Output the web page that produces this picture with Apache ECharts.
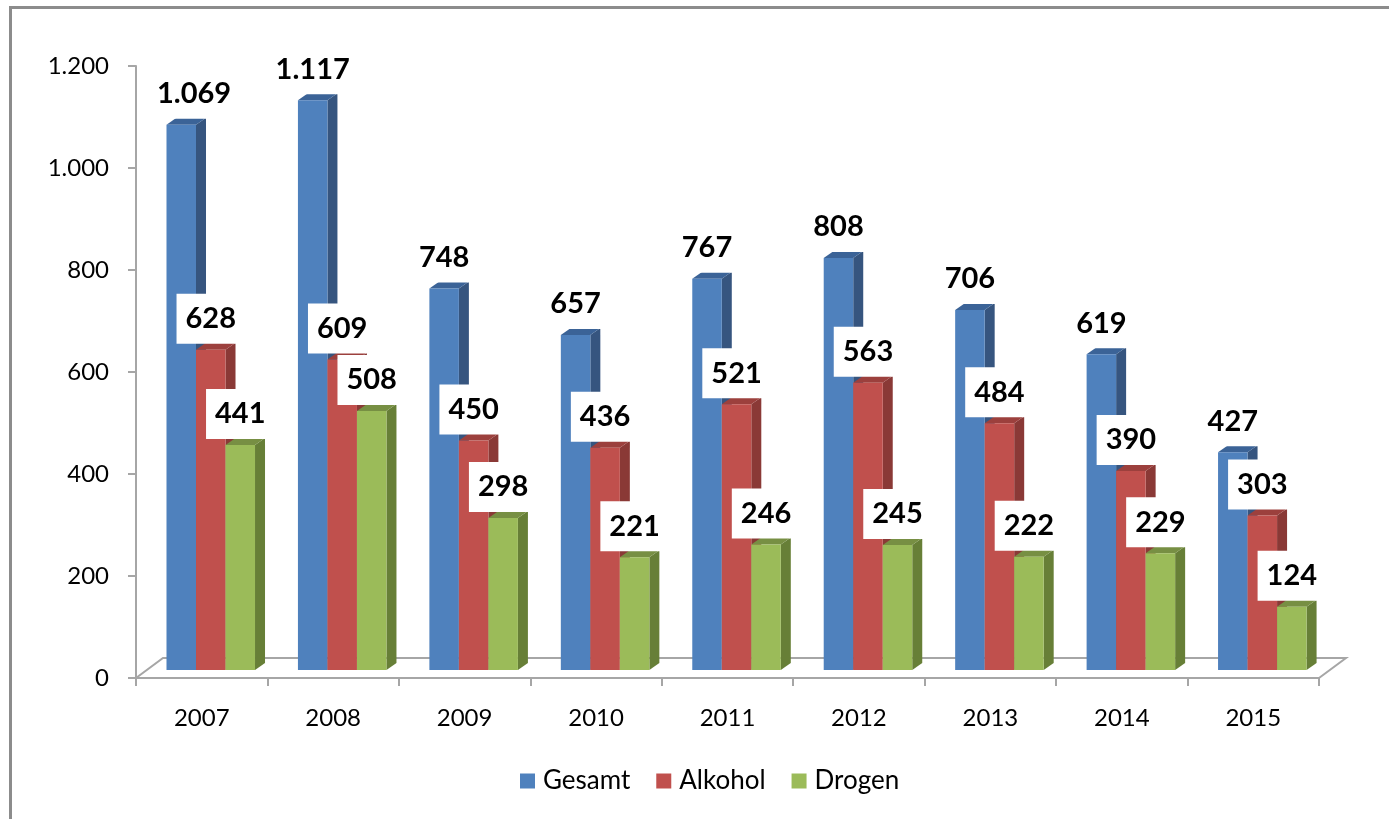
<!DOCTYPE html>
<html>
<head>
<meta charset="utf-8">
<script src="https://cdn.jsdelivr.net/npm/echarts@6/dist/echarts.min.js"></script>
<style>
html,body{margin:0;padding:0;background:#fff;}
#chart{width:1389px;height:819px;}
</style>
</head>
<body>
<div id="chart"></div>
<script>
var categories = ['2007','2008','2009','2010','2011','2012','2013','2014','2015'];
var gesamt  = [1069, 1117, 748, 657, 767, 808, 706, 619, 427];
var alkohol = [628, 609, 450, 436, 521, 563, 484, 390, 303];
var drogen  = [441, 508, 298, 221, 246, 245, 222, 229, 124];
var seriesNames = ['Gesamt', 'Alkohol', 'Drogen'];

var palette = [
  {front:'#4F81BD', side:'#36557F', top:'#3B6397'},
  {front:'#C0504D', side:'#8A3936', top:'#9C403D'},
  {front:'#9BBB59', side:'#677F37', top:'#778F43'}
];

function fmt(v){
  var s = String(Math.round(v));
  return s.replace(/\B(?=(\d{3})+(?!\d))/g, '.');
}

var FONT = 'Lato, "Noto Sans", sans-serif';
var LABEL_FONT = 'bold 29px ' + FONT;
var DX = 10, DY = 7, LIFT = 8;

var measureCtx = document.createElement('canvas').getContext('2d');
function textWidth(t, font){ measureCtx.font = font; return measureCtx.measureText(t).width; }

function makeBarRender(si){
  return function(params, api){
    var idx = api.value(0), val = api.value(1);
    var base = api.coord([idx, 0]);
    var topP = api.coord([idx, val]);
    var band = api.size([1, 0])[0];
    var bw = band * 0.2245;
    var x0 = base[0] - band * 0.268 + si * bw;
    var x1 = x0 + bw;
    var yb = base[1] - LIFT;
    var yt = topP[1] - LIFT;
    var c = palette[si];
    var label = fmt(val);
    var lx = (x0 + x1) / 2;
    var half = textWidth(label, LABEL_FONT) / 2;
    var minLeft = params.coordSys.x + 21;
    if (lx - half < minLeft) lx = minLeft + half;
    return {
      type:'group',
      children:[
        {type:'polygon', shape:{points:[[x1,yb],[x1+DX,yb-DY],[x1+DX,yt-DY],[x1,yt]]}, style:{fill:c.side}},
        {type:'polygon', shape:{points:[[x0,yt],[x0+DX,yt-DY],[x1+DX,yt-DY],[x1,yt]]}, style:{fill:c.top}},
        {type:'rect', shape:{x:x0, y:yt, width:bw, height:yb-yt}, style:{fill:c.front}},
        {type:'text', z2:100, style:{
          text: label, x: lx, y: yt-31, align:'center', verticalAlign:'middle',
          font: LABEL_FONT, fill:'#000', backgroundColor:'#fff',
          padding:[10,9,10,9], lineHeight:30
        }}
      ]
    };
  };
}

function floorRender(params, api){
  var cs = params.coordSys;
  var x = cs.x, y = cs.y + cs.height, w = cs.width;
  var ddx = 27, ddy = 20;
  return {
    type:'group',
    children:[
      {type:'polyline', shape:{points:[[x,y],[x+ddx,y-ddy],[x+w+ddx,y-ddy],[x+w,y]]},
       style:{stroke:'#A6A6A6', lineWidth:2, fill:null}}
    ]
  };
}

var allData = [gesamt, alkohol, drogen];
var series = [{
  type:'custom', name:'floor', renderItem: floorRender, data:[[0,0]], silent:true, z:1,
  encode:{x:0,y:1}
}];
for (var s=0; s<3; s++){
  series.push({
    type:'custom', name: seriesNames[s],
    itemStyle:{color: palette[s].front},
    renderItem: makeBarRender(s),
    encode:{x:0, y:1},
    z:3,
    data: allData[s].map(function(v,i){ return [i, v]; })
  });
}

var chart = echarts.init(document.getElementById('chart'), null, {renderer:'canvas'});
chart.setOption({
  animation:false,
  backgroundColor:'#fff',
  textStyle:{fontFamily:FONT},
  graphic:[{
    type:'rect', left:8, top:5, shape:{x:0,y:0,width:1420,height:860},
    style:{fill:null, stroke:'#8C8C8C', lineWidth:3}, silent:true, z:-1
  }],
  grid:{left:136, right:70, top:66, bottom:141},
  legend:{
    data:seriesNames, left:515, top:763, itemWidth:15, itemHeight:15, itemGap:26,
    icon:'rect',
    textStyle:{fontSize:26, color:'#000', fontFamily:FONT, padding:[0,0,0,3]}
  },
  xAxis:{
    type:'category', data:categories, boundaryGap:true,
    axisLine:{lineStyle:{color:'#A6A6A6', width:2}},
    axisTick:{show:true, length:8, lineStyle:{color:'#A6A6A6', width:2}},
    axisLabel:{fontSize:24, color:'#000', margin:28, fontFamily:FONT},
    splitLine:{show:false}
  },
  yAxis:{
    type:'value', min:0, max:1200, interval:200,
    axisLine:{show:true, lineStyle:{color:'#A6A6A6', width:2}},
    axisTick:{show:true, length:8, lineStyle:{color:'#A6A6A6', width:2}},
    axisLabel:{fontSize:24, color:'#000', margin:27, fontFamily:FONT,
      formatter:function(v){ return fmt(v); }},
    splitLine:{show:false}
  },
  series: series
});
</script>
</body>
</html>
